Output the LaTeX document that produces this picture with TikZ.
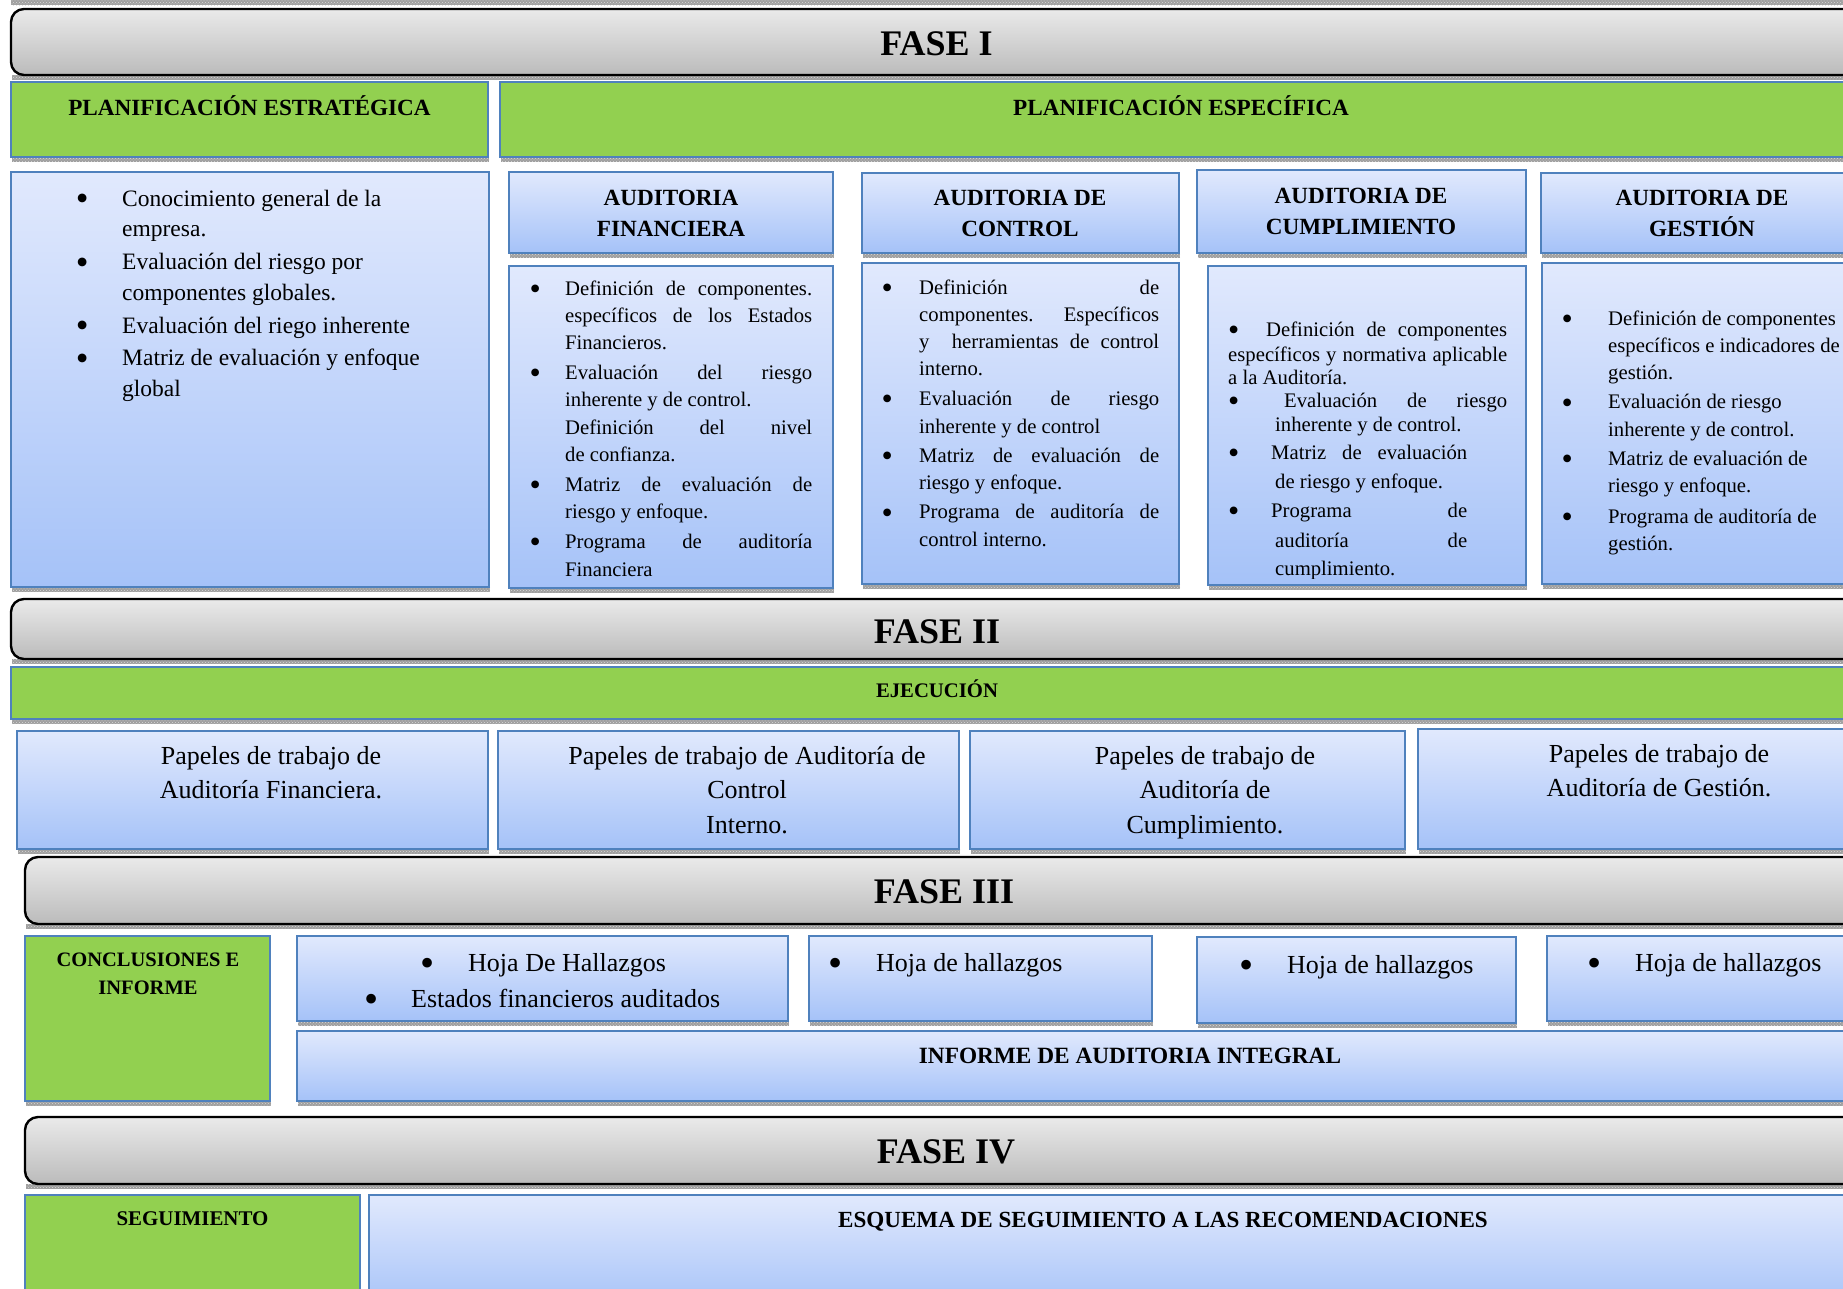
\documentclass[tikz,border=0pt]{standalone}
\usepackage{fontspec}
\setmainfont{Liberation Serif}
\usetikzlibrary{patterns}

\definecolor{leafgreen}{HTML}{92D050}
\definecolor{edgeblue}{HTML}{4F81BD}
\definecolor{skytop}{HTML}{E1E9FD}
\definecolor{skybot}{HTML}{A5C2F8}
\definecolor{greytop}{HTML}{EAEAEA}
\definecolor{greybot}{HTML}{BBBBBB}

% a large round bullet
\newcommand\bigbul{\raisebox{-0.2em}{\scalebox{1.55}{\textbullet}}}
% bullet placed #1 pt to the left of the text start
\newcommand\itembul[1]{\llap{\makebox[0pt][c]{\bigbul}\hspace{#1pt}}}
% a justified line of width #1 pt
\newcommand\fillline[2]{\makebox[#1pt][s]{#2}}

\tikzset{
  phasebar/.style={draw=black, line width=2.4pt, rounded corners=13pt,
    top color=greytop, bottom color=greybot},
  greenbox/.style={draw=edgeblue, line width=2pt, fill=leafgreen},
  bluebox/.style={draw=edgeblue, line width=2.2pt, top color=skytop, bottom color=skybot},
  shadowband/.style={fill=gray!75, postaction={pattern=crosshatch dots, pattern color=gray!30}},
  phasetitle/.style={anchor=base, inner sep=0, font=\fontsize{36}{40}\selectfont\bfseries},
  greentitle/.style={anchor=base, inner sep=0, font=\fontsize{23.2}{31}\selectfont\bfseries},
  smalltitle/.style={anchor=base, inner sep=0, font=\fontsize{20.7}{28}\selectfont\bfseries},
  headtitle/.style={anchor=base, inner sep=0, font=\fontsize{23.2}{31}\selectfont\bfseries},
  listtext/.style={anchor=base west, inner sep=0},
  bodytext/.style={anchor=base west, inner sep=0, font=\fontsize{20.7}{27.3}\selectfont},
  papertext/.style={anchor=base, inner sep=0, font=\fontsize{26}{34.5}\selectfont},
  findtext/.style={anchor=base west, inner sep=0, font=\fontsize{26}{36}\selectfont},
}

% box with its shadow strip underneath: style, x1, y1, x2, y2
\newcommand\panel[5]{%
  \path[shadowband] (#2+1,#5) rectangle (#4+1,#5+4.5);
  \path[#1] (#2,#3) rectangle (#4,#5);}

\begin{document}
\begin{tikzpicture}[x=1pt, y=-1pt]
\useasboundingbox (0,0) rectangle (1843,1288);
\clip (0,0) rectangle (1843,1288);

% shadow strip at the top edge
\path[shadowband] (11,0) rectangle (1870,5);

% ---------- FASE I ----------
\panel{phasebar}{11}{9}{1870}{75}
\node[phasetitle] (f1) at (936.5,55) {FASE I};

\panel{greenbox}{11}{82}{488}{157}
\panel{greenbox}{500}{82}{1870}{157}
\node[greentitle] (pestr) at (249.5,115) {PLANIFICACIÓN ESTRATÉGICA};
\node[greentitle] (pesp) at (1181,115) {PLANIFICACIÓN ESPECÍFICA};

% strategic planning list
\panel{bluebox}{11}{172}{489}{587}
\node[listtext, font=\fontsize{23.5}{30.5}\selectfont] (strat-list) at (122,206) {%
\begin{tabular}[t]{@{}l@{}}
\itembul{40}Conocimiento general de la\\
empresa.\\[2.5pt]
\itembul{40}Evaluación del riesgo por\\
componentes globales.\\[2.5pt]
\itembul{40}Evaluación del riego inherente\\[2pt]
\itembul{40}Matriz de evaluación y enfoque\\
global
\end{tabular}};

% headers of the four audits
\panel{bluebox}{509}{172}{833}{253}
\panel{bluebox}{862}{173}{1179}{253}
\panel{bluebox}{1197}{170}{1526}{253}
\panel{bluebox}{1541}{173}{1870}{253}
\node[headtitle] (h-fin) at (671,205) {\begin{tabular}[t]{@{}c@{}}AUDITORIA\\FINANCIERA\end{tabular}};
\node[headtitle] (h-ctl) at (1020,205) {\begin{tabular}[t]{@{}c@{}}AUDITORIA DE\\CONTROL\end{tabular}};
\node[headtitle] (h-cum) at (1361,203) {\begin{tabular}[t]{@{}c@{}}AUDITORIA DE\\CUMPLIMIENTO\end{tabular}};
\node[headtitle] (h-ges) at (1702,205) {\begin{tabular}[t]{@{}c@{}}AUDITORIA DE\\GESTIÓN\end{tabular}};

% bodies of the four audits
\panel{bluebox}{509}{266}{833}{588}
\panel{bluebox}{862}{263}{1179}{584}
\panel{bluebox}{1208}{266}{1526}{585}
\panel{bluebox}{1542}{263}{1870}{584}

\node[bodytext] (fin-list) at (565,295) {%
\begin{tabular}[t]{@{}l@{}}
\itembul{30}\fillline{247}{Definición de componentes.}\\
\fillline{247}{específicos de los Estados}\\
Financieros.\\[2.5pt]
\itembul{30}\fillline{247}{Evaluación del riesgo}\\
inherente y de control.\\
\fillline{247}{Definición del nivel}\\
de confianza.\\[2.5pt]
\itembul{30}\fillline{247}{Matriz de evaluación de}\\
riesgo y enfoque.\\[3pt]
\itembul{30}\fillline{247}{Programa de auditoría}\\
Financiera
\end{tabular}};

\node[bodytext] (ctl-list) at (919,294) {%
\begin{tabular}[t]{@{}l@{}}
\itembul{32}\fillline{240}{Definición de}\\
\fillline{240}{componentes. Específicos}\\
\fillline{240}{y \ herramientas de control}\\
interno.\\[2.5pt]
\itembul{32}\fillline{240}{Evaluación de riesgo}\\
inherente y de control\\[2pt]
\itembul{32}\fillline{240}{Matriz de evaluación de}\\
riesgo y enfoque.\\[2pt]
\itembul{32}\fillline{240}{Programa de auditoría de}\\
control interno.
\end{tabular}};

\begin{scope}
\clip (1208,266) rectangle (1526,578);
\node[listtext, font=\fontsize{20.7}{23.5}\selectfont] (cum-list) at (1228,336) {%
\begin{tabular}[t]{@{}l@{}}
\makebox[38pt][l]{\bigbul}\fillline{241}{Definición de componentes}\\[1.5pt]
\fillline{279}{específicos y normativa aplicable}\\[-0.5pt]
a la Auditoría.\\[-0.5pt]
\makebox[56pt][l]{\bigbul}\fillline{223}{Evaluación de riesgo}\\[0.5pt]
\hspace*{47pt}inherente y de control.\\[4.5pt]
\makebox[43pt][l]{\bigbul}\fillline{196}{Matriz de evaluación}\\[5.5pt]
\hspace*{47pt}de riesgo y enfoque.\\[5.5pt]
\makebox[43pt][l]{\bigbul}\fillline{196}{Programa de}\\[6.5pt]
\hspace*{47pt}\fillline{192}{auditoría de}\\[4.5pt]
\hspace*{47pt}cumplimiento.
\end{tabular}};
\end{scope}

\node[bodytext] (ges-list) at (1608,325) {%
\begin{tabular}[t]{@{}l@{}}
\itembul{41}Definición de componentes\\
específicos e indicadores de\\
gestión.\\[2pt]
\itembul{41}Evaluación de riesgo\\
inherente y de control.\\[1.5pt]
\itembul{41}Matriz de evaluación de\\
riesgo y enfoque.\\[3.5pt]
\itembul{41}Programa de auditoría de\\
gestión.
\end{tabular}};

% ---------- FASE II ----------
\panel{phasebar}{11}{599}{1870}{659}
\node[phasetitle] (f2) at (937,643) {FASE II};

\panel{greenbox}{11}{667}{1870}{719}
\node[smalltitle] (ejec) at (937,697) {EJECUCIÓN};

\panel{bluebox}{17}{731}{488}{849}
\panel{bluebox}{498}{731}{959}{849}
\panel{bluebox}{970}{731}{1405}{849}
\panel{bluebox}{1418}{729}{1870}{849}
\node[papertext] (pt-fin) at (271,764) {\begin{tabular}[t]{@{}c@{}}Papeles de trabajo de\\Auditoría Financiera.\end{tabular}};
\node[papertext] (pt-ctl) at (747,764) {\begin{tabular}[t]{@{}c@{}}Papeles de trabajo de Auditoría de\\Control\\Interno.\end{tabular}};
\node[papertext] (pt-cum) at (1205,764) {\begin{tabular}[t]{@{}c@{}}Papeles de trabajo de\\Auditoría de\\Cumplimiento.\end{tabular}};
\node[papertext] (pt-ges) at (1659,762) {\begin{tabular}[t]{@{}c@{}}Papeles de trabajo de\\Auditoría de Gestión.\end{tabular}};

% ---------- FASE III ----------
\panel{phasebar}{25}{857}{1870}{924}
\node[phasetitle] (f3) at (944,903.5) {FASE III};

\panel{greenbox}{25}{936}{270}{1101}
\node[anchor=base, inner sep=0, font=\fontsize{20.5}{28}\selectfont\bfseries] (concl) at (148,966)
  {\begin{tabular}[t]{@{}c@{}}CONCLUSIONES E\\INFORME\end{tabular}};

\panel{bluebox}{297}{936}{788}{1021}
\panel{bluebox}{809}{936}{1152}{1021}
\panel{bluebox}{1197}{937}{1516}{1023}
\panel{bluebox}{1547}{936}{1870}{1021}
\node[findtext] (hz-fin) at (411,971) {%
\begin{tabular}[t]{@{}l@{}}
\hspace*{57pt}\itembul{41}Hoja De Hallazgos\\
\itembul{40}Estados financieros auditados
\end{tabular}};
\node[findtext] (hz-ctl) at (876,971) {\itembul{41}Hoja de hallazgos};
\node[findtext] (hz-cum) at (1287,973) {\itembul{41}Hoja de hallazgos};
\node[findtext] (hz-ges) at (1635,971) {\itembul{41}Hoja de hallazgos};

\panel{bluebox}{297}{1031}{1870}{1101}
\node[anchor=base, inner sep=0, font=\fontsize{23.3}{30}\selectfont\bfseries] (informe) at (1130,1063)
  {INFORME DE AUDITORIA INTEGRAL};

% ---------- FASE IV ----------
\panel{phasebar}{25}{1117}{1870}{1184}
\node[phasetitle] (f4) at (946,1163.5) {FASE IV};

\panel{greenbox}{25}{1195}{360}{1310}
\node[anchor=base, inner sep=0, font=\fontsize{20.9}{28}\selectfont\bfseries] (segui) at (192.5,1225) {SEGUIMIENTO};

\panel{bluebox}{369}{1195}{1870}{1310}
\node[anchor=base, inner sep=0, font=\fontsize{23.1}{30}\selectfont\bfseries] (esquema) at (1163,1227)
  {ESQUEMA DE SEGUIMIENTO A LAS RECOMENDACIONES};

\end{tikzpicture}
\end{document}
